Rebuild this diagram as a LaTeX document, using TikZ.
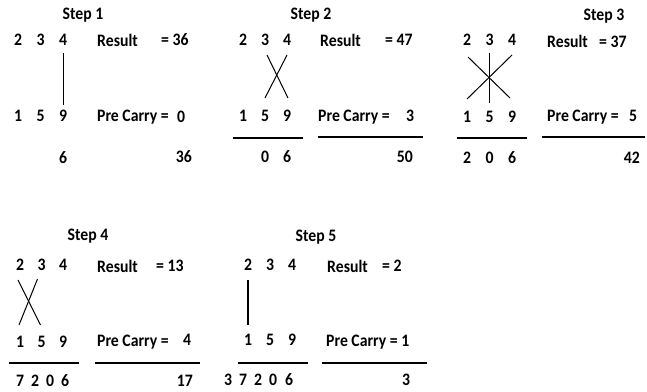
\documentclass[tikz,border=0pt]{standalone}
\usepackage{fontspec}
\setmainfont{Carlito}[FakeStretch=0.9]
\usetikzlibrary{calc}
\tikzset{
  digit/.style={
    inner sep = 0pt
  },
  word/.style={
    inner sep = 0pt,
    anchor = west
  },
  total/.style={
    inner sep = 0pt,
    anchor = east
  },
  stroke/.style={
    line width = 1pt
  },
  heavy/.style={
    line width = 1.8pt
  },
  rule/.style={
    line width = 1.6pt
  },
  every picture/.style = {
    font=\fontsize{17.5}{20}\selectfont\bfseries
  }
}

\begin{document}
\begin{tikzpicture}[x=1pt,y=-1pt]
  \useasboundingbox (0,0) rectangle (647,391);
  % the two factors of every step
  \foreach \s/\x/\y/\dx/\lo in {1/18/40/22.5/76, 2/243/40/22/76, 3/467/40/22.5/77, 4/20/265/21.5/77, 5/248/265/22/75}{
    \foreach \d [count=\i] in {2,3,4}
      \node[digit] (s\s-t\i) at ({\x+\dx*(\i-1)},\y) {\d};
    \foreach \d [count=\i] in {1,5,9}
      \node[digit] (s\s-b\i) at ({\x+\dx*(\i-1)},\y+\lo) {\d};
  }

  % step 1
  \node (st1) at (83,15) {Step 1};
  \draw[stroke] ($(s1-t3)+(0,13)$) -- ($(s1-b3)+(0,-11)$);
  \node[digit] (s1-p1) at (63,158) {6};
  \node[word] (s1-res) at (97,40) {Result};
  \node[word] (s1-rv) at (161,40) {= 36};
  \node[word] (s1-pc) at (97,117) {Pre Carry =};
  \node[digit] (s1-pv) at (181,117) {0};
  \node[total] (s1-tot) at (192,157) {36};

  % step 2
  \node (st2) at (311,15) {Step 2};
  \draw[stroke] ($(s2-t2)+(2,15)$) -- ($(s2-b3)+(1,-18)$);
  \draw[stroke] ($(s2-t3)+(0,15)$) -- ($(s2-b2)+(0,-18)$);
  \draw[rule] (233,138) -- (303,138);
  \draw[rule] (318,137) -- (423,137);
  \foreach \d/\x [count=\i] in {0/265,6/287}
    \node[digit] (s2-p\i) at (\x,157) {\d};
  \node[word] (s2-res) at (320,40) {Result};
  \node[word] (s2-rv) at (385,40) {= 47};
  \node[word] (s2-pc) at (318,117) {Pre Carry =};
  \node[digit] (s2-pv) at (410,116) {3};
  \node[total] (s2-tot) at (413,157) {50};

  % step 3
  \node (st3) at (604,16) {Step 3};
  \draw[heavy] ($(s3-t2)+(0,13)$) -- ($(s3-b2)+(0,-14)$);
  \draw[stroke] ($(s3-t1)+(1,17)$) -- ($(s3-b3)+(-2,-19)$);
  \draw[stroke] ($(s3-t3)+(0,15)$) -- ($(s3-b1)+(0,-18)$);
  \draw[rule] (457,138) -- (527,138);
  \draw[rule] (542,137) -- (645,137);
  \foreach \d/\x [count=\i] in {2/467,0/489.5,6/512}
    \node[digit] (s3-p\i) at (\x,158) {\d};
  \node[word] (s3-res) at (547,41) {Result};
  \node[word] (s3-rv) at (599,42) {= 37};
  \node[word] (s3-pc) at (547,117) {Pre Carry =};
  \node[digit] (s3-pv) at (633,116) {5};
  \node[total] (s3-tot) at (640,158) {42};

  % step 4
  \node (st4) at (88,236) {Step 4};
  \draw[stroke] ($(s4-t1)+(-2,15)$) -- ($(s4-b2)+(-1,-17)$);
  \draw[stroke] ($(s4-t2)+(-4,14)$) -- ($(s4-b1)+(-1,-17)$);
  \draw[rule] (9,363) -- (79,363);
  \draw[rule] (95,363) -- (200,363);
  \foreach \d/\x [count=\i] in {7/20,2/35,0/50,6/65}
    \node[digit] (s4-p\i) at (\x,381) {\d};
  \node[word] (s4-res) at (97,266) {Result};
  \node[word] (s4-rv) at (156,266) {= 13};
  \node[word] (s4-pc) at (97,342) {Pre Carry =};
  \node[digit] (s4-pv) at (187,340) {4};
  \node[total] (s4-tot) at (193,381) {17};

  % step 5
  \node (st5) at (316,237) {Step 5};
  \draw[heavy] ($(s5-t1)+(0,15)$) -- ($(s5-b1)+(0,-15)$);
  \draw[rule] (238,363) -- (308,363);
  \draw[rule] (322,363) -- (427,363);
  \foreach \d/\x [count=\i] in {3/228,7/243,2/258,0/273,6/289}
    \node[digit] (s5-p\i) at (\x,380) {\d};
  \node[word] (s5-res) at (327,266) {Result};
  \node[word] (s5-rv) at (382,266) {= 2};
  \node[word] (s5-pc) at (326,342) {Pre Carry = 1};
  \node[digit] (s5-tot) at (406,380) {3};
\end{tikzpicture}
\end{document}
